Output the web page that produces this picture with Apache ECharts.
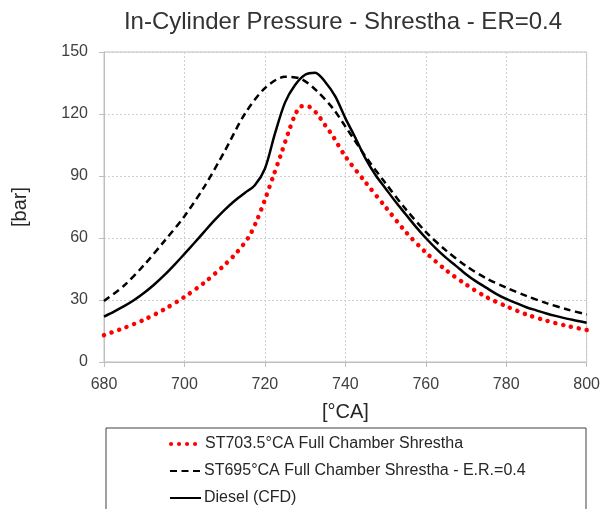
<!DOCTYPE html>
<html>
<head>
<meta charset="utf-8">
<script src="https://cdn.jsdelivr.net/npm/echarts@6/dist/echarts.min.js"></script>
<style>
html,body{margin:0;padding:0;background:#fff;}
#chart{width:603px;height:509px;}
</style>
</head>
<body>
<div id="chart"></div>
<script>
// ---- data ----
const titleText = 'In-Cylinder Pressure - Shrestha - ER=0.4';
const xAxisName = '[°CA]';
const yAxisName = '[bar]';
const seriesNames = ['ST703.5°CA Full Chamber Shrestha', 'ST695°CA Full Chamber Shrestha - E.R.=0.4', 'Diesel (CFD)'];

const redCA = [680,685,690,695,700,705,710,713,716,718,720,722,724,726,727.5,729,731,733,735,737,740,745,750,755,760,765,770,775,780,785,790,795,800];
const redP  = [13,16.5,20.5,25.5,31.5,38.5,47,53,60.5,68.5,78.5,89.5,100.5,112,119.5,123.8,123.5,120,114.5,109,99.5,87,75,63,53,44.5,37.5,31.5,27,23,20,17.5,15.5];

const dashCA = [680,685,690,695,700,705,710,715,720,725,729,733,737,740,745,750,755,760,765,770,775,780,785,790,795,800];
const dashP  = [29.5,37,47,58.5,70.5,85,102,120,132.5,138,137,131,122.5,114,99.5,86.5,74,63,54,46.5,40.5,36,32,28.5,25.5,23];

const solidCA = [680,682.5,685,687.5,690,692.5,695,697.5,700,702.5,705,707.5,710,712.5,715,717.5,720,722.5,725,727.5,730,732.5,735,737.5,740,742.5,745,747.5,750,752.5,755,757.5,760,762.5,765,767.5,770,772.5,775,777.5,780,782.5,785,787.5,790,792.5,795,797.5,800];
const solidP  = [22,24.4,27,30,33.5,37.5,42,47,52.3,57.7,63.2,68.6,73.6,78,81.8,85.5,93.5,110.5,125.5,134,139,140,135.5,128.5,118,108.5,98.5,90.5,84,77.5,71.5,65.5,60,55,50.5,46.5,42.5,39,36,33,30.5,28.5,26.5,25,23.5,22.2,21,20,19];

const xTicks = {min:680, max:800, step:20};
const yTicks = {min:0, max:150, step:30};

const zip = (xs, ys) => xs.map((x, i) => [x, ys[i]]);

const chart = echarts.init(document.getElementById('chart'), null, {renderer:'canvas'});
const FONT = 'Liberation Sans';
const legendBase = {
  orient: 'vertical', left: 169, padding: 0,
  itemWidth: 31, itemHeight: 14,
  itemStyle: {opacity: 0},
  textStyle: {fontFamily: FONT, fontSize: 16, color: '#262626', padding: [0,0,0,-2]}
};
chart.setOption({
  animation: false,
  backgroundColor: '#ffffff',
  title: {
    text: titleText,
    left: 338, top: 5, textAlign: 'center',
    textStyle: {fontFamily: FONT, fontSize: 24, fontWeight: 'normal', color: '#333333'}
  },
  grid: {left: 104, right: 16, top: 52, bottom: 147, show: true, borderColor: '#bfbfbf', borderWidth: 1, containLabel: false},
  xAxis: {
    type: 'value', min: xTicks.min, max: xTicks.max, interval: xTicks.step,
    name: xAxisName, nameLocation: 'middle', nameGap: 40,
    nameTextStyle: {fontFamily: FONT, fontSize: 20, color: '#262626'},
    axisLine: {show: true, lineStyle: {color: '#bfbfbf', width: 1}},
    axisTick: {show: true, length: 5, lineStyle: {color: '#bfbfbf'}},
    axisLabel: {fontFamily: FONT, fontSize: 16, color: '#404040', margin: 15},
    splitLine: {show: true, lineStyle: {color: '#d0d0d0', type: [2, 2], width: 1}}
  },
  yAxis: {
    type: 'value', min: yTicks.min, max: yTicks.max, interval: yTicks.step,
    name: yAxisName, nameLocation: 'middle', nameGap: 74,
    nameTextStyle: {fontFamily: FONT, fontSize: 20, color: '#262626'},
    axisLine: {show: true, lineStyle: {color: '#bfbfbf', width: 1}},
    axisTick: {show: true, length: 5, lineStyle: {color: '#bfbfbf'}},
    axisLabel: {fontFamily: FONT, fontSize: 16, color: '#404040', margin: 16},
    splitLine: {show: true, lineStyle: {color: '#d0d0d0', type: [2, 2], width: 1}}
  },
  legend: [
    Object.assign({}, legendBase, {top: 436, data: [seriesNames[0]], lineStyle: {width: 4, cap: 'round'}}),
    Object.assign({}, legendBase, {top: 463, data: [seriesNames[1]]}),
    Object.assign({}, legendBase, {top: 490, data: [seriesNames[2]]})
  ],
  graphic: [{
    type: 'rect', silent: true,
    shape: {x: 106, y: 428, width: 480, height: 100},
    style: {fill: 'none', stroke: '#404040', lineWidth: 1}
  }],
  series: [
    {
      name: seriesNames[0], type: 'line', symbol: 'none', smooth: 0.3,
      data: zip(redCA, redP), z: 3,
      lineStyle: {color: '#ff0000', width: 4.5, type: [0.1, 7.9], cap: 'round'},
      itemStyle: {color: '#ff0000'}
    },
    {
      name: seriesNames[1], type: 'line', symbol: 'none', smooth: 0.3,
      data: zip(dashCA, dashP), z: 4,
      lineStyle: {color: '#000000', width: 2.5, type: [7, 4.5]},
      itemStyle: {color: '#000000'}
    },
    {
      name: seriesNames[2], type: 'line', symbol: 'none', smooth: 0.3,
      data: zip(solidCA, solidP), z: 5,
      lineStyle: {color: '#000000', width: 2.5, type: 'solid'},
      itemStyle: {color: '#000000'}
    }
  ]
});
</script>
</body>
</html>
